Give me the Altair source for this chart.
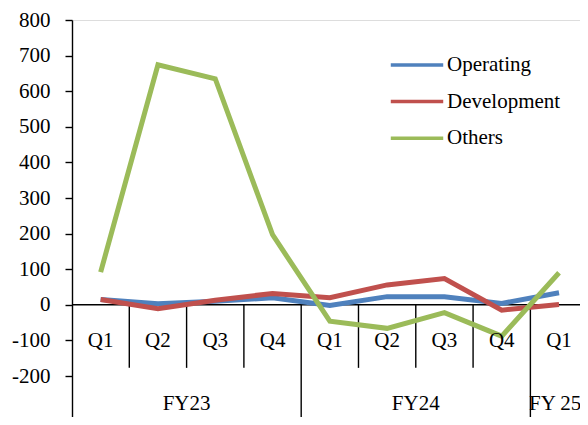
import altair as alt
import pandas as pd

# ---- data ----
quarters = ["Q1", "Q2", "Q3", "Q4", "Q1", "Q2", "Q3", "Q4", "Q1"]
years = ["FY23", "FY23", "FY23", "FY23", "FY24", "FY24", "FY24", "FY24", "FY 25"]
series_names = ["Operating", "Development", "Others"]
operating = [15, 3, 10, 20, -2, 23, 23, 4, 34]
development = [15, -11, 13, 32, 20, 56, 74, -15, 1]
others = [92, 674, 635, 197, -46, -66, -22, -88, 90]
y_ticks = list(range(-200, 801, 100))
colors = ["#4F81BD", "#C0504D", "#9BBB59"]

FONT = "'Times New Roman', 'Liberation Serif', serif"
FS = 21
Y_MIN, Y_MAX = -315, 800
X_MAX = 8.866          # the last column is cut by the window edge
QLABEL_Y = -102
FYLABEL_Y = -279
SHORT_SEP_END = -177

n = len(quarters)

# ---- tables built from the lists ----
rows = []
for name, vals in zip(series_names, [operating, development, others]):
    for i, v in enumerate(vals):
        rows.append({"series": name, "pos": i + 0.5, "value": v, "order": i})
lines_df = pd.DataFrame(rows)

qlab_df = pd.DataFrame({"pos": [i + 0.5 for i in range(n)], "label": quarters})

# year groups (label centred on the visible part of each group)
groups = []
for i, y in enumerate(years):
    if not groups or groups[-1]["label"] != y:
        groups.append({"label": y, "start": i, "end": i + 1})
    else:
        groups[-1]["end"] = i + 1
fy_df = pd.DataFrame({
    "label": [g["label"] for g in groups],
    "pos": [(g["start"] + min(g["end"], X_MAX)) / 2 for g in groups],
})

seps = []
for b in range(1, n):
    long_sep = years[b] != years[b - 1]
    seps.append({"pos": b, "y0": 0, "y1": Y_MIN if long_sep else SHORT_SEP_END})
sep_df = pd.DataFrame(seps)

xscale = alt.Scale(domain=[0, X_MAX], nice=False, zero=False)
yscale = alt.Scale(domain=[Y_MIN, Y_MAX], nice=False, zero=False)
yaxis = alt.Axis(
    values=y_ticks,
    title=None,
    grid=False,
    tickSize=7,
    tickWidth=1.4,
    tickColor="black",
    domainColor="black",
    domainWidth=1.4,
    labelPadding=15,
    labelFont=FONT,
    labelFontSize=FS,
    labelColor="black",
    labelOverlap=False,
    labelBound=False,
    labelExpr="datum.value + ''",
)

zero_rule = alt.Chart(pd.DataFrame({"a": [0], "b": [X_MAX], "y": [0]})).mark_rule(
    color="black", strokeWidth=1.5
).encode(
    x=alt.X("a:Q", scale=xscale, axis=None),
    x2="b:Q",
    y=alt.Y("y:Q", scale=yscale, axis=yaxis),
)

sep_rules = alt.Chart(sep_df).mark_rule(color="black", strokeWidth=1.4).encode(
    x=alt.X("pos:Q", scale=xscale, axis=None),
    y=alt.Y("y0:Q", scale=yscale, axis=yaxis),
    y2="y1:Q",
)

lines = alt.Chart(lines_df).mark_line(strokeWidth=5, strokeCap="butt", strokeJoin="miter").encode(
    x=alt.X("pos:Q", scale=xscale, axis=None),
    y=alt.Y("value:Q", scale=yscale, axis=yaxis),
    color=alt.Color(
        "series:N",
        scale=alt.Scale(domain=series_names, range=colors),
        sort=series_names,
        legend=alt.Legend(
            title=None,
            orient="none",
            legendX=317,
            legendY=34,
            symbolType="stroke",
            symbolSize=2750,
            symbolStrokeWidth=3.5,
            clipHeight=22,
            rowPadding=14.6,
            padding=0,
            labelFont=FONT,
            labelFontSize=FS,
            labelColor="black",
            labelOffset=2,
        ),
    ),
    order="order:Q",
)

qlabels = alt.Chart(qlab_df).mark_text(
    font=FONT, fontSize=FS, color="black", baseline="middle", align="center"
).encode(
    x=alt.X("pos:Q", scale=xscale, axis=None),
    y=alt.datum(QLABEL_Y, scale=yscale, axis=yaxis),
    text="label:N",
)

fylabels = alt.Chart(fy_df).mark_text(
    font=FONT, fontSize=FS, color="black", baseline="middle", align="center"
).encode(
    x=alt.X("pos:Q", scale=xscale, axis=None),
    y=alt.datum(FYLABEL_Y, scale=yscale, axis=yaxis),
    text="label:N",
)

chart = alt.layer(zero_rule, sep_rules, lines, qlabels, fylabels).properties(
    width=508,
    height=397,
    autosize=alt.AutoSizeParams(type="none"),
    padding={"left": 64, "top": 12, "right": 0, "bottom": 0},
).configure_view(stroke=None).configure(background="white")

chart.save("out.html", embed_options={"renderer": "svg", "actions": False})
